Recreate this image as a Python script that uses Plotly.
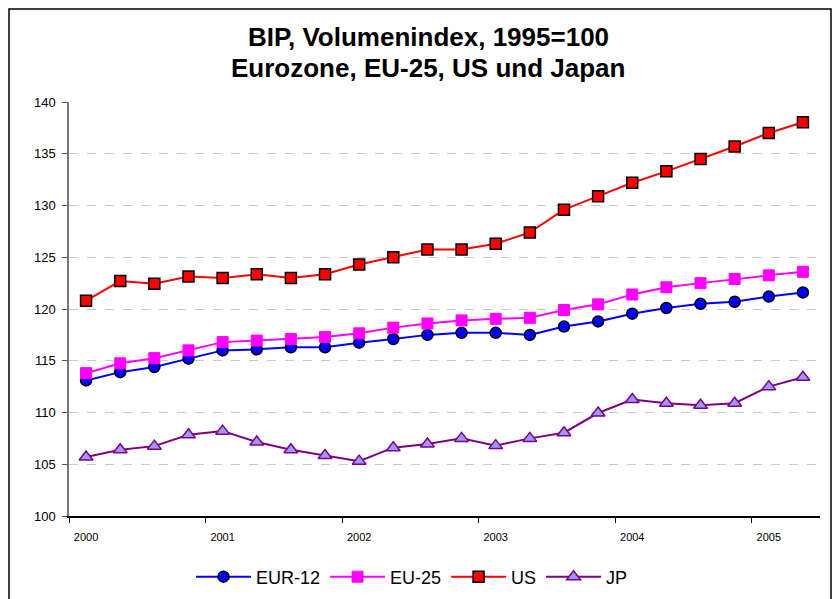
import plotly.graph_objects as go

quarters = [f"{y}Q{q}" for y in range(2000, 2006) for q in range(1, 5)][:22]
year_labels = ["2000", "2001", "2002", "2003", "2004", "2005"]
year_label_idx = [0, 4, 8, 12, 16, 20]

eur12 = [113.1, 113.9, 114.4, 115.2, 116.0, 116.1, 116.3, 116.3, 116.75, 117.1, 117.5,
         117.7, 117.7, 117.5, 118.3, 118.8, 119.55, 120.1, 120.5, 120.7, 121.2, 121.6]
eu25 = [113.8, 114.75, 115.25, 116.0, 116.8, 116.95, 117.1, 117.3, 117.65, 118.2, 118.6,
        118.9, 119.05, 119.15, 119.9, 120.45, 121.4, 122.1, 122.5, 122.9, 123.25, 123.6]
us = [120.8, 122.7, 122.45, 123.15, 123.0, 123.35, 123.0, 123.35, 124.3, 125.0, 125.75,
      125.75, 126.3, 127.4, 129.6, 130.9, 132.2, 133.3, 134.5, 135.7, 137.0, 138.05]
jp = [105.7, 106.4, 106.75, 107.85, 108.2, 107.15, 106.4, 105.85, 105.3, 106.6, 106.95,
      107.5, 106.8, 107.5, 108.05, 109.95, 111.25, 110.9, 110.7, 110.9, 112.5, 113.4]

x = list(range(len(quarters)))
FONT = "Arial, Liberation Sans, sans-serif"

fig = go.Figure()
fig.add_trace(go.Scatter(x=x, y=eur12, name="EUR-12", mode="lines+markers",
                         line=dict(color="#0000ff", width=2),
                         marker=dict(symbol="circle", size=11, color="#0000ff",
                                     line=dict(color="#000000", width=1.5))))
fig.add_trace(go.Scatter(x=x, y=eu25, name="EU-25", mode="lines+markers",
                         line=dict(color="#ff00ff", width=2),
                         marker=dict(symbol="square", size=11, color="#ff00ff",
                                     line=dict(color="#ff00ff", width=1))))
fig.add_trace(go.Scatter(x=x, y=us, name="US", mode="lines+markers",
                         line=dict(color="#ff0000", width=2),
                         marker=dict(symbol="square", size=11, color="#ff0000",
                                     line=dict(color="#000000", width=1.5))))
fig.add_trace(go.Scatter(x=x, y=jp, name="JP", mode="lines+markers",
                         line=dict(color="#800080", width=2),
                         marker=dict(symbol="triangle-up", size=12, color="#9999ff",
                                     line=dict(color="#800080", width=1.5))))

L, R, T, B = 69, 14, 102, 83
W, H = 834, 599
pw = W - L - R
ph = H - T - B

def px_x(p):
    return (p - L) / pw

def px_y(p):
    return (H - B - p) / ph

fig.update_layout(
    width=W, height=H,
    margin=dict(l=L, r=R, t=T, b=B, pad=0, autoexpand=False),
    paper_bgcolor="white", plot_bgcolor="white",
    font=dict(family=FONT, color="#000000"),
    showlegend=True,
    legend=dict(orientation="h", x=px_x(412), xanchor="center",
                y=px_y(577), yanchor="middle", font=dict(size=18, family=FONT),
                itemwidth=55, tracegroupgap=0, bgcolor="rgba(0,0,0,0)"),
    xaxis=dict(range=[-0.5, len(quarters) - 0.5], tickmode="array",
               tickvals=year_label_idx, ticktext=year_labels, ticks="",
               tickfont=dict(size=11), showgrid=False, zeroline=False,
               showline=True, linecolor="#000000", linewidth=1.5,
               minor=dict(tickmode="array",
                          tickvals=[i - 0.5 for i in range(0, len(quarters) + 1, 4)],
                          ticks="outside", ticklen=5, tickcolor="#000000", tickwidth=1,
                          showgrid=False),
               ticklabelstandoff=10),
    yaxis=dict(range=[100, 140], tickmode="linear", tick0=100, dtick=5,
               ticks="outside", ticklen=5, tickcolor="#555555",
               tickfont=dict(size=13), showgrid=True, gridcolor="#c8c8c8",
               griddash="dash", gridwidth=1, zeroline=False,
               showline=True, linecolor="#777777", linewidth=1.5,
               ticklabelstandoff=4),
)

fig.add_annotation(text="<b>BIP, Volumenindex, 1995=100</b>", xref="paper", yref="paper",
                   x=px_x(428), y=px_y(37), showarrow=False,
                   font=dict(size=26, family=FONT), xanchor="center", yanchor="middle")
fig.add_annotation(text="<b>Eurozone, EU-25, US und Japan</b>", xref="paper", yref="paper",
                   x=px_x(428), y=px_y(68), showarrow=False,
                   font=dict(size=26, family=FONT), xanchor="center", yanchor="middle")

fig.add_shape(type="rect", xref="paper", yref="paper",
              x0=px_x(9), x1=px_x(831), y0=px_y(620), y1=px_y(9),
              line=dict(color="#000000", width=1.5), fillcolor="rgba(0,0,0,0)", layer="below")

fig.write_html("out.html", config={"displayModeBar": False},
               post_script="document.body.style.margin='0px';")
